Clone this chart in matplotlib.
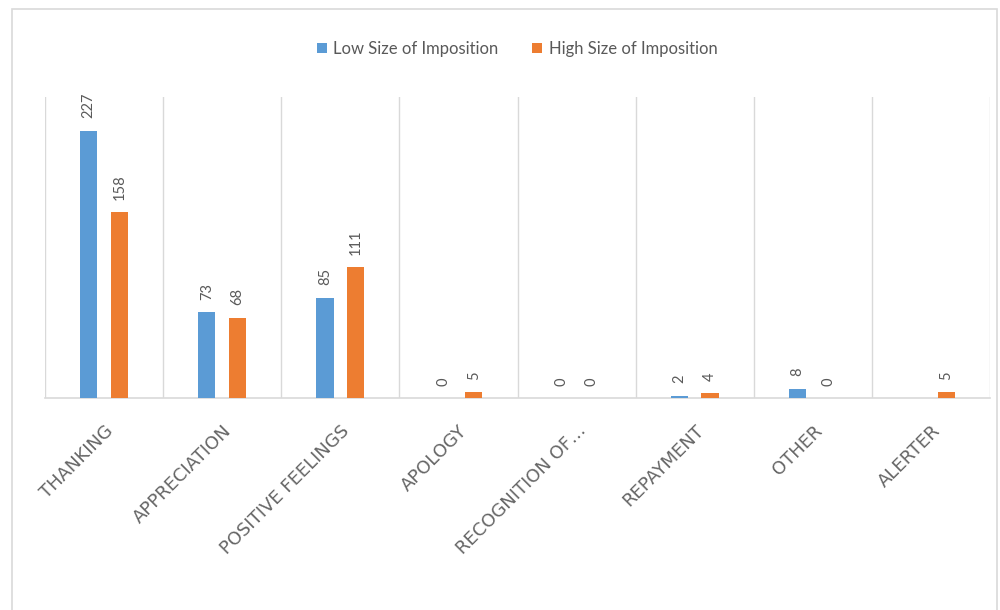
import matplotlib
matplotlib.use("Agg")
import matplotlib.pyplot as plt
from matplotlib.patches import Rectangle
import numpy as np

categories = ["THANKING", "APPRECIATION", "POSITIVE FEELINGS", "APOLOGY",
              "RECOGNITION OF…", "REPAYMENT", "OTHER", "ALERTER"]
low_values = [227, 73, 85, 0, 0, 2, 8, None]
high_values = [158, 68, 111, 5, 0, 4, 0, 5]
series_names = ["Low Size of Imposition", "High Size of Imposition"]

BLUE = "#5B9BD5"
ORANGE = "#ED7D31"
TEXT = "#595959"
GRID = "#D9D9D9"

plt.rcParams["font.family"] = ["Lato", "DejaVu Sans"]

fig = plt.figure(figsize=(10, 6.1), dpi=100)
fig.patch.set_facecolor("white")

# chart area frame
fig.patches.append(Rectangle((0.012, -0.05), 0.985, 1.035, transform=fig.transFigure,
                             fill=False, edgecolor="#D9D9D9", linewidth=1.2))

ax = fig.add_axes([0.045, 0.3475, 0.945, 0.494])
x = np.arange(len(categories))
width = 0.145
offset = 0.13

low_plot = [v if v is not None else 0 for v in low_values]
b1 = ax.bar(x - offset, low_plot, width, color=BLUE, label=series_names[0], zorder=3)
b2 = ax.bar(x + offset, high_values, width, color=ORANGE, label=series_names[1], zorder=3)

ax.set_xlim(-0.5, len(categories) - 0.5)
ax.set_ylim(0, 256)

# category separators
for i in range(len(categories) + 1):
    ax.axvline(i - 0.5, color=GRID, linewidth=1, zorder=1)

for spine in ["top", "right", "left"]:
    ax.spines[spine].set_visible(False)
ax.spines["bottom"].set_color(GRID)
ax.spines["bottom"].set_linewidth(1.2)
ax.set_yticks([])
ax.set_xticks(x)
ax.set_xticklabels(categories, rotation=45, ha="right", rotation_mode="anchor",
                   fontsize=13, color="#666666", family=["DejaVu Sans"])
ax.tick_params(axis="x", length=0, pad=17)

# value labels
for xi, v in zip(x - offset, low_values):
    if v is None:
        continue
    ax.annotate(str(v), (xi, v), xytext=(0, 9), textcoords="offset points",
                rotation=90, ha="center", va="bottom", fontsize=10.5, color=TEXT)
for xi, v in zip(x + offset, high_values):
    ax.annotate(str(v), (xi, v), xytext=(0, 9), textcoords="offset points",
                rotation=90, ha="center", va="bottom", fontsize=10.5, color=TEXT)

fig.legend(handles=[b1, b2], labels=series_names, loc="center",
           bbox_to_anchor=(0.517, 0.92), ncol=2, frameon=False, fontsize=12,
           handlelength=0.6, handleheight=0.6, handletextpad=0.4, columnspacing=2.0,
           labelcolor=TEXT)

fig.savefig("out.png", dpi=100, facecolor="white")
